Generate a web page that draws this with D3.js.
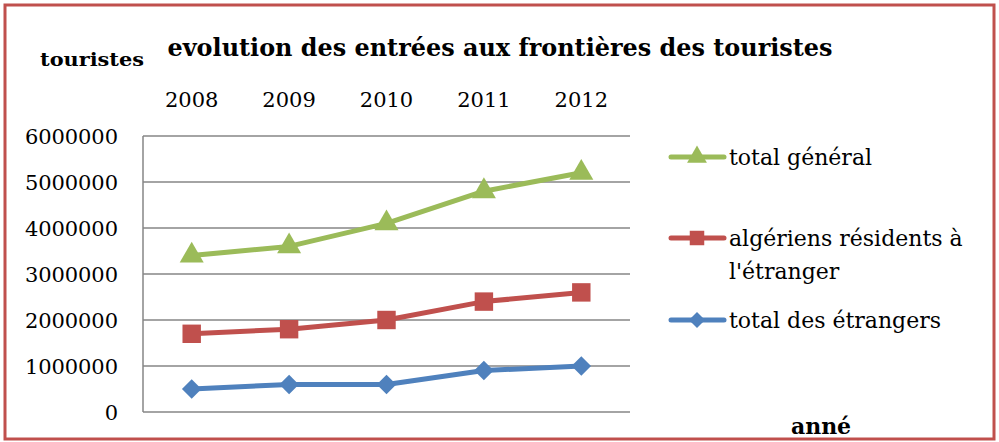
<!DOCTYPE html>
<html>
<head>
<meta charset="utf-8">
<script src="https://cdn.jsdelivr.net/npm/d3@7"></script>
<style>
  body { margin: 0; background: #fff; }
</style>
</head>
<body>
<div id="chart"></div>
<script>
// years along the x axis
const years = ["2008", "2009", "2010", "2011", "2012"];
// series values
const totalGeneral = [3400000, 3600000, 4100000, 4800000, 5200000];
const algeriensResidents = [1700000, 1800000, 2000000, 2400000, 2600000];
const totalEtrangers = [500000, 600000, 600000, 900000, 1000000];
const yTicks = [0, 1000000, 2000000, 3000000, 4000000, 5000000, 6000000];

// diamonds are squares turned by 45 degrees
const series = [
    { name: ["total général"], values: totalGeneral, color: "#9BBB59", symbol: d3.symbolTriangle, size: 250, legSize: 170, rot: 0, ly: 157 },
    { name: ["algériens résidents à", "l'étranger"], values: algeriensResidents, color: "#C0504D", symbol: d3.symbolSquare, size: 340, legSize: 210, rot: 0, ly: 238 },
    { name: ["total des étrangers"], values: totalEtrangers, color: "#4F81BD", symbol: d3.symbolSquare, size: 190, legSize: 130, rot: 45, ly: 320 }
];

const serif = "'DejaVu Serif', 'Liberation Serif', serif";
const width = 999, height = 442;
const svg = d3.select("#chart").append("svg")
    .attr("width", width)
    .attr("height", height)
    .attr("font-family", serif);

// outer red frame
svg.append("rect")
    .attr("x", 5).attr("y", 5)
    .attr("width", 989).attr("height", 434)
    .attr("fill", "#fff")
    .attr("stroke", "#C0504D")
    .attr("stroke-width", 3);

const x = d3.scaleBand().domain(years).range([143, 630]);
const y = d3.scaleLinear().domain([0, 6000000]).range([412, 136]);

// gridlines
svg.append("g")
    .selectAll("line")
    .data(yTicks)
    .join("line")
    .attr("x1", 143).attr("x2", 630)
    .attr("y1", d => y(d)).attr("y2", d => y(d))
    .attr("stroke", "#868686")
    .attr("stroke-width", 1.5);

// left axis line
svg.append("line")
    .attr("x1", 143).attr("x2", 143)
    .attr("y1", y(6000000)).attr("y2", y(0))
    .attr("stroke", "#868686")
    .attr("stroke-width", 1.5);

// y tick labels
svg.append("g")
    .selectAll("text")
    .data(yTicks)
    .join("text")
    .attr("x", 118)
    .attr("y", d => y(d) + 8)
    .attr("text-anchor", "end")
    .attr("font-size", 21)
    .attr("textLength", d => String(d).length * 13.3)
    .text(d => d);

// year labels at the top
svg.append("g")
    .selectAll("text")
    .data(years)
    .join("text")
    .attr("x", d => x(d) + x.bandwidth() / 2)
    .attr("y", 107)
    .attr("text-anchor", "middle")
    .attr("font-size", 21)
    .text(d => d);

// title and axis titles
svg.append("text")
    .attr("x", 500).attr("y", 56)
    .attr("text-anchor", "middle")
    .attr("font-size", 25)
    .attr("font-weight", "bold")
    .attr("textLength", 665)
    .attr("lengthAdjust", "spacingAndGlyphs")
    .text("evolution des entrées aux frontières des touristes");

svg.append("text")
    .attr("x", 92).attr("y", 66)
    .attr("text-anchor", "middle")
    .attr("font-size", 19)
    .attr("font-weight", "bold")
    .attr("textLength", 104)
    .attr("lengthAdjust", "spacingAndGlyphs")
    .text("touristes");

svg.append("text")
    .attr("x", 821).attr("y", 434)
    .attr("text-anchor", "middle")
    .attr("font-size", 22)
    .attr("font-weight", "bold")
    .text("anné");

const line = d3.line()
    .x((d, i) => x(years[i]) + x.bandwidth() / 2)
    .y(d => y(d));

series.forEach(s => {
    svg.append("path")
        .datum(s.values)
        .attr("d", line)
        .attr("fill", "none")
        .attr("stroke", s.color)
        .attr("stroke-width", 5)
        .attr("stroke-linejoin", "round");

    svg.append("g")
        .selectAll("path")
        .data(s.values)
        .join("path")
        .attr("transform", (d, i) => `translate(${x(years[i]) + x.bandwidth() / 2},${y(d)}) rotate(${s.rot})`)
        .attr("d", d3.symbol().type(s.symbol).size(s.size))
        .attr("fill", s.color);

    // legend entry
    svg.append("line")
        .attr("x1", 671).attr("x2", 724)
        .attr("y1", s.ly).attr("y2", s.ly)
        .attr("stroke", s.color)
        .attr("stroke-width", 5)
        .attr("stroke-linecap", "round");
    svg.append("path")
        .attr("transform", `translate(697,${s.ly}) rotate(${s.rot})`)
        .attr("d", d3.symbol().type(s.symbol).size(s.legSize))
        .attr("fill", s.color);
    s.name.forEach((t, k) => {
        svg.append("text")
            .attr("x", 729)
            .attr("y", s.ly + 8 + k * 33)
            .attr("font-size", 22)
            .text(t);
    });
});
</script>
</body>
</html>
